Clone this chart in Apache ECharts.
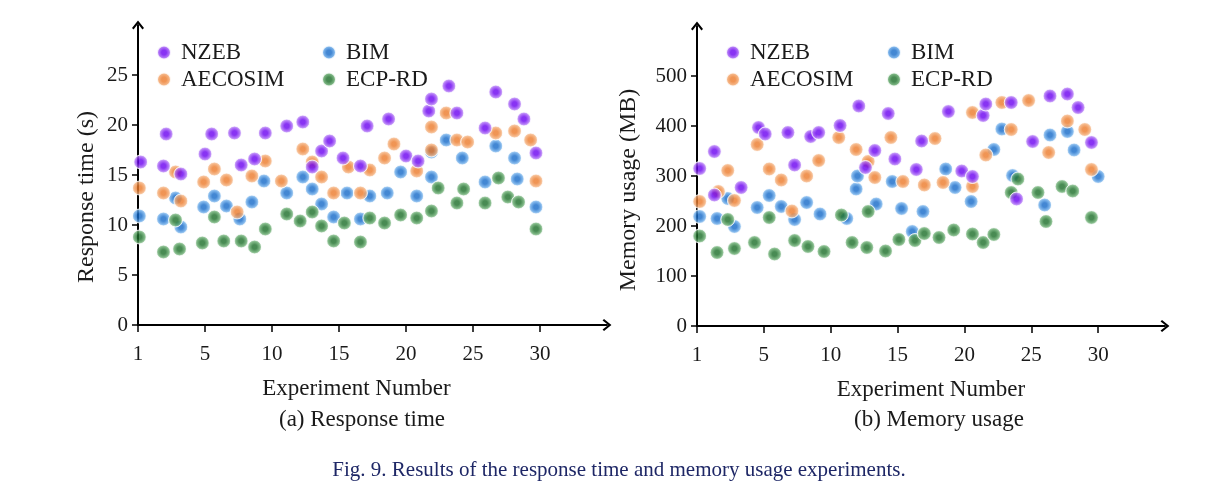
<!DOCTYPE html>
<html>
<head>
<meta charset="utf-8">
<script src="https://cdn.jsdelivr.net/npm/echarts@6/dist/echarts.min.js"></script>
<style>
  html, body { margin: 0; padding: 0; background: #fff; }
  #main { width: 1226px; height: 496px; }
</style>
</head>
<body>
<div id="main"></div>
<script>
// x values are positions on the 1..30 experiment axis (first tick labelled "1")
var xTicks = [0, 5, 10, 15, 20, 25, 30];
var xTickLabels = ['1', '5', '10', '15', '20', '25', '30'];
var rtTicks = [0, 5, 10, 15, 20, 25];
var memTicks = [0, 100, 200, 300, 400, 500];

// (a) response time (s)
var rtNZEB = [[0.2,16.3],[1.9,15.9],[2.1,19.1],[3.2,15.1],[5.0,17.1],[5.5,19.1],[7.2,19.2],[7.7,16.0],
  [8.7,16.6],[9.5,19.2],[11.1,19.9],[12.3,20.3],[13.0,15.8],[13.7,17.4],[14.3,18.4],[15.3,16.7],
  [16.6,15.9],[17.1,19.9],[18.7,20.6],[20.0,16.9],[20.9,16.4],[21.7,21.4],[21.9,22.6],[23.2,23.9],
  [23.8,21.2],[25.9,19.7],[26.7,23.3],[28.1,22.1],[28.8,20.6],[29.7,17.2]];
var rtAECOSIM = [[0.1,13.7],[1.9,13.2],[2.8,15.3],[3.2,12.4],[4.9,14.3],[5.7,15.6],[6.6,14.5],[7.4,11.3],
  [8.5,14.9],[9.5,16.4],[10.7,14.4],[12.3,17.6],[13.0,16.3],[13.7,14.8],[14.6,13.2],[15.7,15.8],
  [16.6,13.2],[17.3,15.5],[18.4,16.7],[19.1,18.1],[20.8,15.4],[21.9,17.5],[21.9,19.8],[23.0,21.2],
  [23.8,18.5],[24.6,18.3],[26.7,19.2],[28.1,19.4],[29.3,18.5],[29.7,14.4]];
var rtBIM = [[0.1,10.9],[1.9,10.6],[2.8,12.7],[3.2,9.8],[4.9,11.8],[5.7,12.9],[6.6,11.9],[7.6,10.6],
  [8.5,12.3],[9.4,14.4],[11.1,13.2],[12.3,14.8],[13.0,13.6],[13.7,12.1],[14.6,10.8],[15.6,13.2],
  [16.6,10.6],[17.3,12.9],[18.6,13.2],[19.6,15.3],[20.8,12.9],[21.9,14.8],[21.9,17.3],[23.0,18.5],
  [24.2,16.7],[25.9,14.3],[26.7,17.9],[28.1,16.7],[28.3,14.6],[29.7,11.8]];
var rtECPRD = [[0.1,8.8],[1.9,7.3],[2.8,10.5],[3.1,7.6],[4.8,8.2],[5.7,10.8],[6.4,8.4],[7.7,8.4],
  [8.7,7.8],[9.5,9.6],[11.1,11.1],[12.1,10.4],[13.0,11.3],[13.7,9.9],[14.6,8.4],[15.4,10.2],
  [16.6,8.3],[17.3,10.7],[18.4,10.2],[19.6,11.0],[20.8,10.7],[21.9,11.4],[22.4,13.7],[23.8,12.2],
  [24.3,13.6],[25.9,12.2],[26.9,14.7],[27.6,12.8],[28.4,12.3],[29.7,9.6]];

// (b) memory usage (MB)
var memNZEB = [[0.2,315],[1.3,349],[1.3,262],[3.3,277],[4.6,397],[5.1,384],[6.8,387],[7.3,322],
  [8.5,379],[9.1,387],[10.7,401],[12.1,440],[12.6,317],[13.3,351],[14.3,425],[14.8,334],
  [16.4,313],[16.8,370],[18.8,429],[19.8,310],[20.6,299],[21.4,421],[21.6,444],[23.5,447],
  [23.9,254],[25.1,369],[26.4,460],[27.7,464],[28.5,437],[29.5,367]];
var memAECOSIM = [[0.2,249],[1.6,269],[2.3,311],[2.8,251],[4.5,363],[5.4,314],[6.3,292],[7.1,230],
  [8.2,300],[9.1,331],[10.6,377],[11.9,353],[12.8,329],[13.3,297],[14.5,377],[15.4,289],
  [17.0,282],[17.8,375],[18.4,287],[20.6,279],[20.6,427],[21.6,342],[22.8,447],[23.5,393],
  [24.8,451],[26.3,347],[27.7,410],[29.0,393],[29.5,313]];
var memBIM = [[0.2,219],[1.5,215],[2.3,255],[2.8,199],[4.5,237],[5.4,261],[6.3,239],[7.3,213],
  [8.2,247],[9.2,224],[11.2,215],[11.9,274],[12.0,300],[13.4,244],[14.6,289],[15.3,235],
  [16.1,189],[16.9,229],[18.6,314],[19.3,277],[20.5,249],[22.2,353],[22.8,394],[23.6,301],
  [26.0,242],[26.4,382],[27.7,389],[28.2,352],[30.0,299]];
var memECPRD = [[0.2,180],[1.5,147],[2.3,213],[2.8,155],[4.3,167],[5.4,217],[5.8,144],[7.3,171],
  [8.3,159],[9.5,149],[10.8,222],[11.6,167],[12.7,157],[12.8,229],[14.1,150],[15.1,173],
  [16.3,171],[17.0,185],[18.1,177],[19.2,192],[20.6,184],[21.4,167],[22.2,183],[23.5,267],
  [24.0,294],[25.5,267],[26.1,209],[27.3,279],[28.1,270],[29.5,217]];

var serif = '"Liberation Serif", "DejaVu Serif", serif';
var textColor = '#1a1a1a';

function dot(dark, mid, light) {
    return new echarts.graphic.RadialGradient(0.5, 0.5, 0.5, [
        { offset: 0, color: dark },
        { offset: 0.3, color: dark },
        { offset: 0.7, color: mid },
        { offset: 1, color: light }
    ]);
}
var dotColors = {
    'NZEB': dot('#6a00f0', '#a35cf5', '#e3d1fb'),
    'AECOSIM': dot('#ec7a2a', '#f3a66c', '#fbe0cb'),
    'BIM': dot('#1469c8', '#5fa3e6', '#d0e6f8'),
    'ECP-RD': dot('#1b6e28', '#5ea566', '#cfe6d1')
};
var dotZ = { 'BIM': 1, 'AECOSIM': 2, 'ECP-RD': 3, 'NZEB': 4 };

var arrow = 'path://M5,0L10,6.2L8.7,7.4L5,2.6L1.3,7.4L0,6.2Z';

function xAxisFor(gridIndex) {
    return {
        gridIndex: gridIndex,
        type: 'value',
        min: 0,
        max: 35,
        name: 'Experiment Number',
        nameLocation: 'middle',
        nameGap: 52,
        nameTextStyle: { fontFamily: serif, fontSize: 23, color: textColor,
            padding: gridIndex === 0 ? [0, 32, 0, 0] : [0, 0, 0, 0] },
        splitLine: { show: false },
        axisLine: { lineStyle: { color: '#000', width: 2 }, symbol: ['none', arrow], symbolSize: [12, 9] },
        axisTick: { customValues: xTicks, length: 7, lineStyle: { color: '#000', width: 1.5 } },
        axisLabel: {
            customValues: xTicks,
            margin: 19,
            fontFamily: serif, fontSize: 21, color: textColor,
            formatter: function (v) { return xTickLabels[xTicks.indexOf(v)]; }
        }
    };
}

function yAxisFor(gridIndex, max, ticks, name, gap, pad) {
    return {
        gridIndex: gridIndex,
        type: 'value',
        min: 0,
        max: max,
        name: name,
        nameLocation: 'middle',
        nameGap: gap,
        nameRotate: 90,
        nameTextStyle: { fontFamily: serif, fontSize: 24, color: textColor, padding: [0, pad, 0, 0] },
        splitLine: { show: false },
        axisLine: { lineStyle: { color: '#000', width: 2 }, symbol: ['none', arrow], symbolSize: [12, 9] },
        axisTick: { customValues: ticks, length: 6, lineStyle: { color: '#000', width: 1.5 } },
        axisLabel: { customValues: ticks, margin: 10, fontFamily: serif, fontSize: 21, color: textColor }
    };
}

function scatter(name, data, idx) {
    return {
        name: name,
        type: 'scatter',
        xAxisIndex: idx,
        yAxisIndex: idx,
        z: dotZ[name],
        symbolSize: 14,
        itemStyle: { color: dotColors[name], borderColor: '#fff', borderWidth: 1 },
        data: data
    };
}

function legendCol(names, left) {
    return {
        data: names,
        orient: 'vertical',
        left: left,
        top: 36,
        itemWidth: 24,
        itemHeight: 14,
        itemGap: 4,
        selectedMode: false,
        textStyle: { fontFamily: serif, fontSize: 23, color: textColor, lineHeight: 23 }
    };
}

var myChart = echarts.init(document.getElementById('main'));

var option = {
    backgroundColor: '#fff',
    animation: false,
    title: [
        { text: '(a) Response time', left: 357, top: 403, textAlign: 'center',
          textStyle: { fontFamily: serif, fontSize: 23, fontWeight: 'normal', color: textColor } },
        { text: '(b) Memory usage', left: 934, top: 403, textAlign: 'center',
          textStyle: { fontFamily: serif, fontSize: 23, fontWeight: 'normal', color: textColor } },
        { text: 'Fig. 9. Results of the response time and memory usage experiments.', left: 614, top: 455, textAlign: 'center',
          textStyle: { fontFamily: serif, fontSize: 21, fontWeight: 'normal', color: '#1e2766' } }
    ],
    legend: [
        legendCol(['NZEB', 'AECOSIM'], 151),
        legendCol(['BIM', 'ECP-RD'], 316),
        legendCol(['NZEB', 'AECOSIM'], 720),
        legendCol(['BIM', 'ECP-RD'], 881)
    ],
    grid: [
        { left: 138, top: 25, width: 469, height: 300 },
        { left: 697, top: 26, width: 468, height: 300 }
    ],
    xAxis: [xAxisFor(0), xAxisFor(1)],
    yAxis: [
        yAxisFor(0, 30, rtTicks, 'Response time (s)', 39, 44),
        yAxisFor(1, 600, memTicks, 'Memory usage (MB)', 56, 28)
    ],
    series: [
        scatter('NZEB', rtNZEB, 0),
        scatter('AECOSIM', rtAECOSIM, 0),
        scatter('BIM', rtBIM, 0),
        scatter('ECP-RD', rtECPRD, 0),
        scatter('NZEB', memNZEB, 1),
        scatter('AECOSIM', memAECOSIM, 1),
        scatter('BIM', memBIM, 1),
        scatter('ECP-RD', memECPRD, 1)
    ]
};
myChart.setOption(option);
</script>
</body>
</html>
